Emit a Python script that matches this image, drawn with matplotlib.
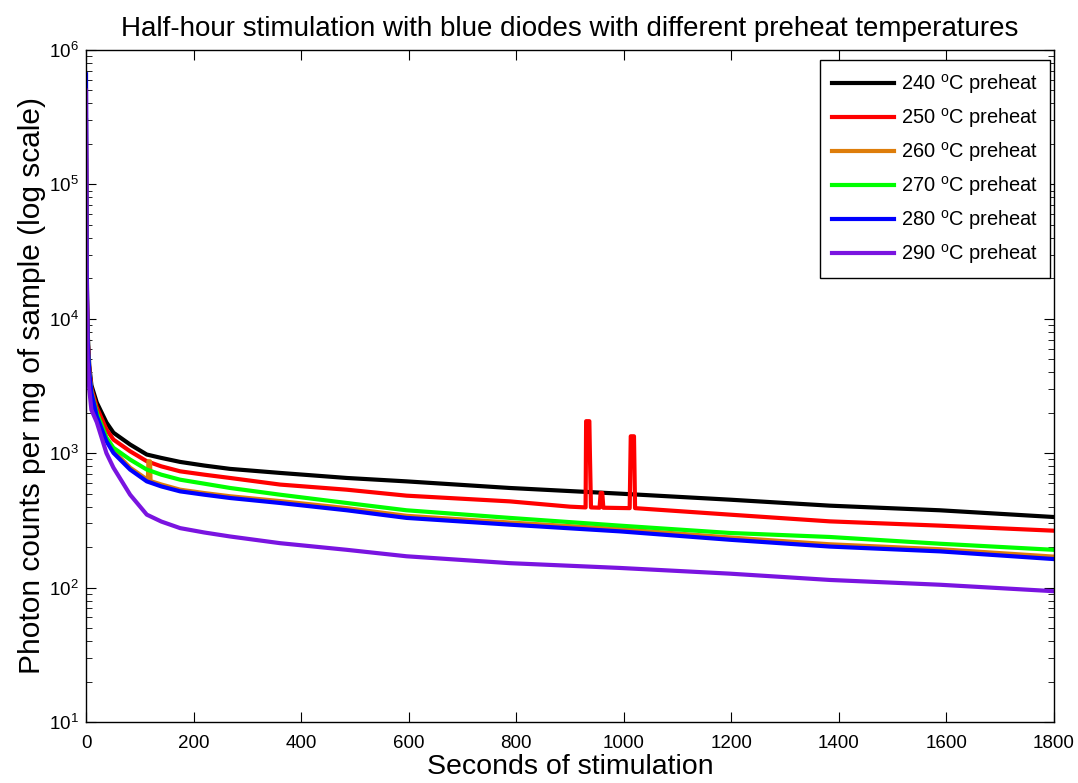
import numpy as np
import matplotlib
matplotlib.use('Agg')
import matplotlib.pyplot as plt

plt.rcParams['font.family'] = ['Liberation Sans', 'DejaVu Sans']
plt.rcParams['mathtext.fontset'] = 'custom'
plt.rcParams['mathtext.rm'] = 'Liberation Sans'

# time points (seconds)
t = [0, 1, 3, 6, 10, 20, 38, 51, 82, 113, 140, 175, 220, 268, 361, 485, 596, 788, 993, 1197, 1383, 1588, 1800]

black_240 = [3e5, 3e4, 8000, 4500, 3200, 2380, 1690, 1420, 1160, 977, 922, 861, 809, 764, 713, 654, 617, 551, 500, 451, 407, 376, 335]
red_250 = [2e5, 2e4, 7000, 4200, 3000, 2190, 1500, 1262, 1033, 871, 798, 733, 692, 654, 584, 535, 483, 438, 391, 349, 311, 289, 265]
orange_260 = [1.5e5, 2e4, 7000, 4000, 2900, 1950, 1260, 1040, 780, 640, 585, 535, 505, 478, 440, 390, 342, 305, 272, 236, 210, 193, 170]
green_270 = [1e5, 1.5e4, 6000, 3800, 2800, 2000, 1306, 1096, 896, 755, 692, 635, 593, 551, 491, 426, 376, 330, 289, 255, 238, 212, 191]
blue_280 = [6.6e5, 2.5e4, 7000, 4000, 2800, 1880, 1226, 1005, 755, 617, 566, 520, 491, 464, 426, 376, 330, 294, 262, 227, 202, 186, 163]
purple_290 = [5e5, 2e4, 5000, 3000, 2100, 1700, 1000, 780, 491, 349, 310, 277, 257, 240, 214, 191, 171, 152, 140, 127, 114, 105, 94]

# glitches
red_spike_t = [900, 929, 930, 936, 937, 939, 955, 957, 960, 962, 1011, 1013, 1019, 1021]
red_spike_v = [400, 395, 1730, 1730, 1000, 395, 393, 506, 506, 393, 390, 1336, 1336, 390]
orange_spike_t = [115, 116, 119, 120]
orange_spike_v = [630, 870, 870, 620]

labels = ['240 $^{\\mathrm{o}}$C preheat', '250 $^{\\mathrm{o}}$C preheat', '260 $^{\\mathrm{o}}$C preheat',
          '270 $^{\\mathrm{o}}$C preheat', '280 $^{\\mathrm{o}}$C preheat', '290 $^{\\mathrm{o}}$C preheat']
colors = ['#000000', '#ff0000', '#de7d0a', '#00ff00', '#0000ff', '#7a14e0']


def merge(t0, v0, t1, v1):
    tt = np.concatenate([t0, t1])
    vv = np.concatenate([v0, v1])
    order = np.argsort(tt, kind='stable')
    return tt[order], vv[order]


series = [
    (np.array(t), np.array(black_240)),
    merge(np.array(t), np.array(red_250), np.array(red_spike_t), np.array(red_spike_v)),
    merge(np.array(t), np.array(orange_260), np.array(orange_spike_t), np.array(orange_spike_v)),
    (np.array(t), np.array(green_270)),
    (np.array(t), np.array(blue_280)),
    (np.array(t), np.array(purple_290)),
]

fig = plt.figure(figsize=(10.78, 7.83), dpi=100)
ax = fig.add_axes([0.0798, 0.0779, 0.8979, 0.8583])

for (x, y), c, lab in zip(series, colors, labels):
    ax.semilogy(x, y, color=c, lw=3, label=lab)

ax.set_xlim(0, 1800)
ax.set_ylim(10, 1e6)
ax.set_xticks(range(0, 1801, 200))
ax.tick_params(which='both', direction='in', top=True, right=True, labelsize=13.5)
ax.tick_params(axis='x', pad=9)
ax.tick_params(axis='y', pad=5)
ax.tick_params(which='major', length=7)
ax.tick_params(which='minor', length=4)
for s in ax.spines.values():
    s.set_linewidth(1.0)

ax.set_title('Half-hour stimulation with blue diodes with different preheat temperatures', fontsize=20, pad=10)
ax.set_xlabel('Seconds of stimulation', fontsize=20.5, labelpad=2)
ax.set_ylabel('Photon counts per mg of sample (log scale)', fontsize=21.5, labelpad=2)

leg = ax.legend(loc='upper right', bbox_to_anchor=(1 - 4 / 968, 1 - 10 / 672), fontsize=14.4,
                fancybox=False, framealpha=1, edgecolor='black', borderaxespad=0,
                handlelength=3.1, labelspacing=0.5, handletextpad=0.35, borderpad=0.6)
leg.get_frame().set_linewidth(1.0)

fig.savefig('out.png', dpi=100)
